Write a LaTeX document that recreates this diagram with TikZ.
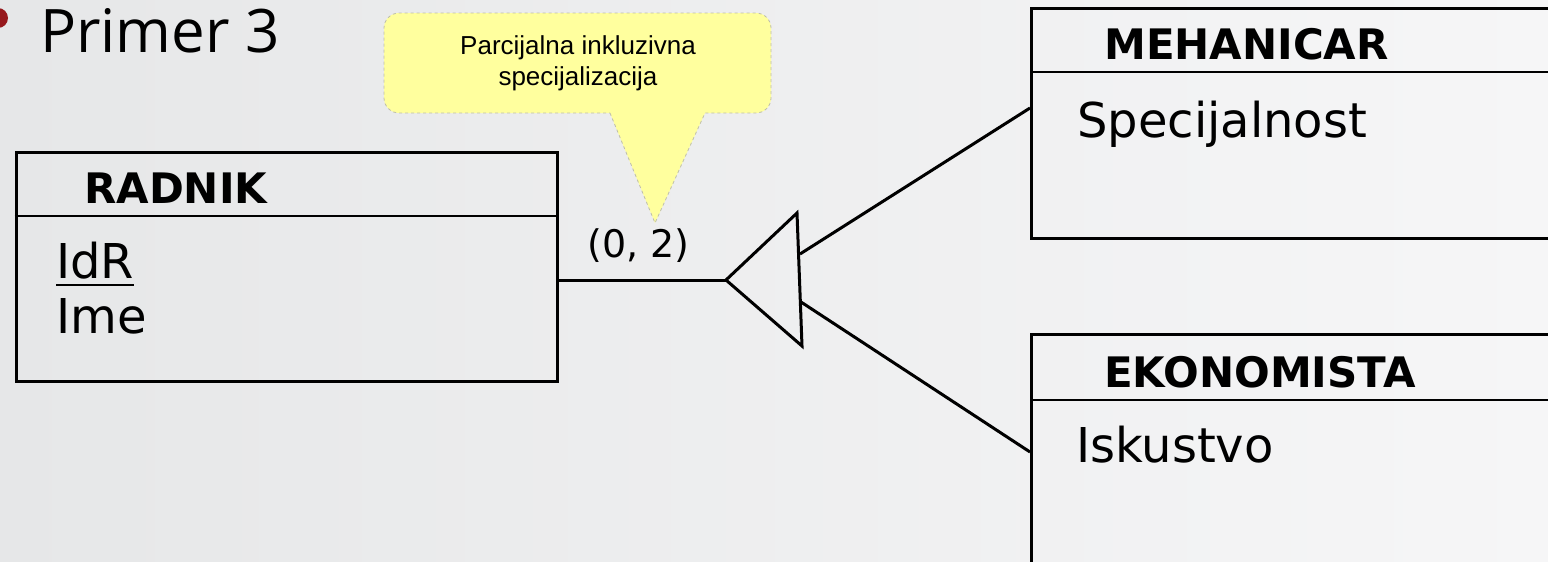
\documentclass[tikz,border=0pt]{standalone}
\usepackage{fontspec}
\setmainfont{DejaVu Sans}
\newfontfamily\calloutfont{Liberation Sans}
\newfontfamily\titlefont{Open Sans}
\usetikzlibrary{calc}
\definecolor{bgleft}{RGB}{230,231,232}
\definecolor{bgmid}{RGB}{243,243,244}
\definecolor{bgright}{RGB}{246,246,247}
\definecolor{bulletred}{RGB}{150,24,28}
\definecolor{calloutfill}{RGB}{255,255,158}
\definecolor{calloutedge}{RGB}{190,190,170}
\tikzset{
  entbox/.style={draw=black, line width=3pt, inner sep=0pt, anchor=north west},
  divider/.style={draw=black, line width=2pt},
  conn/.style={draw=black, line width=3pt, line join=miter},
  enttitle/.style={font=\bfseries\fontsize{42}{48}\selectfont, inner sep=0pt, anchor=base west},
  attr/.style={font=\fontsize{48}{55}\selectfont, inner sep=0pt, anchor=base west},
  card/.style={font=\fontsize{38}{44}\selectfont, inner sep=0pt, anchor=base west},
  calloutbox/.style={fill=calloutfill, draw=calloutedge, line width=0.8pt, dashed},
  callouttext/.style={font=\calloutfont\fontsize{26}{31}\selectfont, inner sep=0pt, align=center, anchor=north},
  titletext/.style={font=\titlefont\fontsize{60}{66}\selectfont, inner sep=0pt, anchor=base west}
}
\begin{document}
\begin{tikzpicture}[x=1pt, y=-1pt]
\useasboundingbox (0,0) rectangle (1548,562);
\clip (0,0) rectangle (1548,562);
\shade[left color=bgleft, middle color=bgmid, right color=bgright] (0,0) rectangle (1548,562);

% title
\fill[bulletred] (-2,18) circle (10);
\node[titletext] (title) at (40,52) {Primer 3};

% callout
\draw[calloutbox] (610,113) -- (655,223) -- (705,113) {[rounded corners=15] -- (771,113) -- (771,13) -- (384,13) -- (384,113)} -- cycle;
\node[callouttext] (note) at (578,35) {Parcijalna inkluzivna\\specijalizacija};

% RADNIK
\node[entbox, minimum width=541pt, minimum height=229pt] (radnik) at (14.5,150.5) {};
\draw[divider] (radnik.west |- 0,216) -- (radnik.east |- 0,216);
\node[enttitle] (radnikT) at (84,203) {RADNIK};
\node[attr] (idr) at (56,278) {IdR};
\draw[line width=2.5pt] ([yshift=-7pt]idr.base west) -- ([yshift=-7pt]idr.base east);
\node[attr] (ime) at (56,333) {Ime};

% MEHANICAR
\node[entbox, minimum width=560pt, minimum height=230pt] (meh) at (1030,7) {};
\draw[divider] (meh.west |- 0,72) -- (meh.east |- 0,72);
\node[enttitle] (mehT) at (1104,59) {MEHANICAR};
\node[attr] (spec) at (1077,137) {Specijalnost};

% EKONOMISTA
\node[entbox, minimum width=560pt, minimum height=300pt] (eko) at (1030,333) {};
\draw[divider] (eko.west |- 0,400) -- (eko.east |- 0,400);
\node[enttitle] (ekoT) at (1104,387) {EKONOMISTA};
\node[attr] (isk) at (1076,462) {Iskustvo};

% specialization triangle
\coordinate (tip) at (726,280);
\coordinate (ttop) at (797,213);
\coordinate (tbot) at (802,346);
\coordinate (u1) at (800,254);
\coordinate (u2) at (801,302);
\draw[conn] (tip) -- (ttop) -- (tbot) -- cycle;
\draw[conn] (radnik.east |- tip) -- (tip);
\draw[conn] (u1) -- (meh.west |- 0,108);
\draw[conn] (u2) -- (eko.west |- 0,452);
\node[card] (cardinality) at (587,257) {(0, 2)};
\end{tikzpicture}
\end{document}
